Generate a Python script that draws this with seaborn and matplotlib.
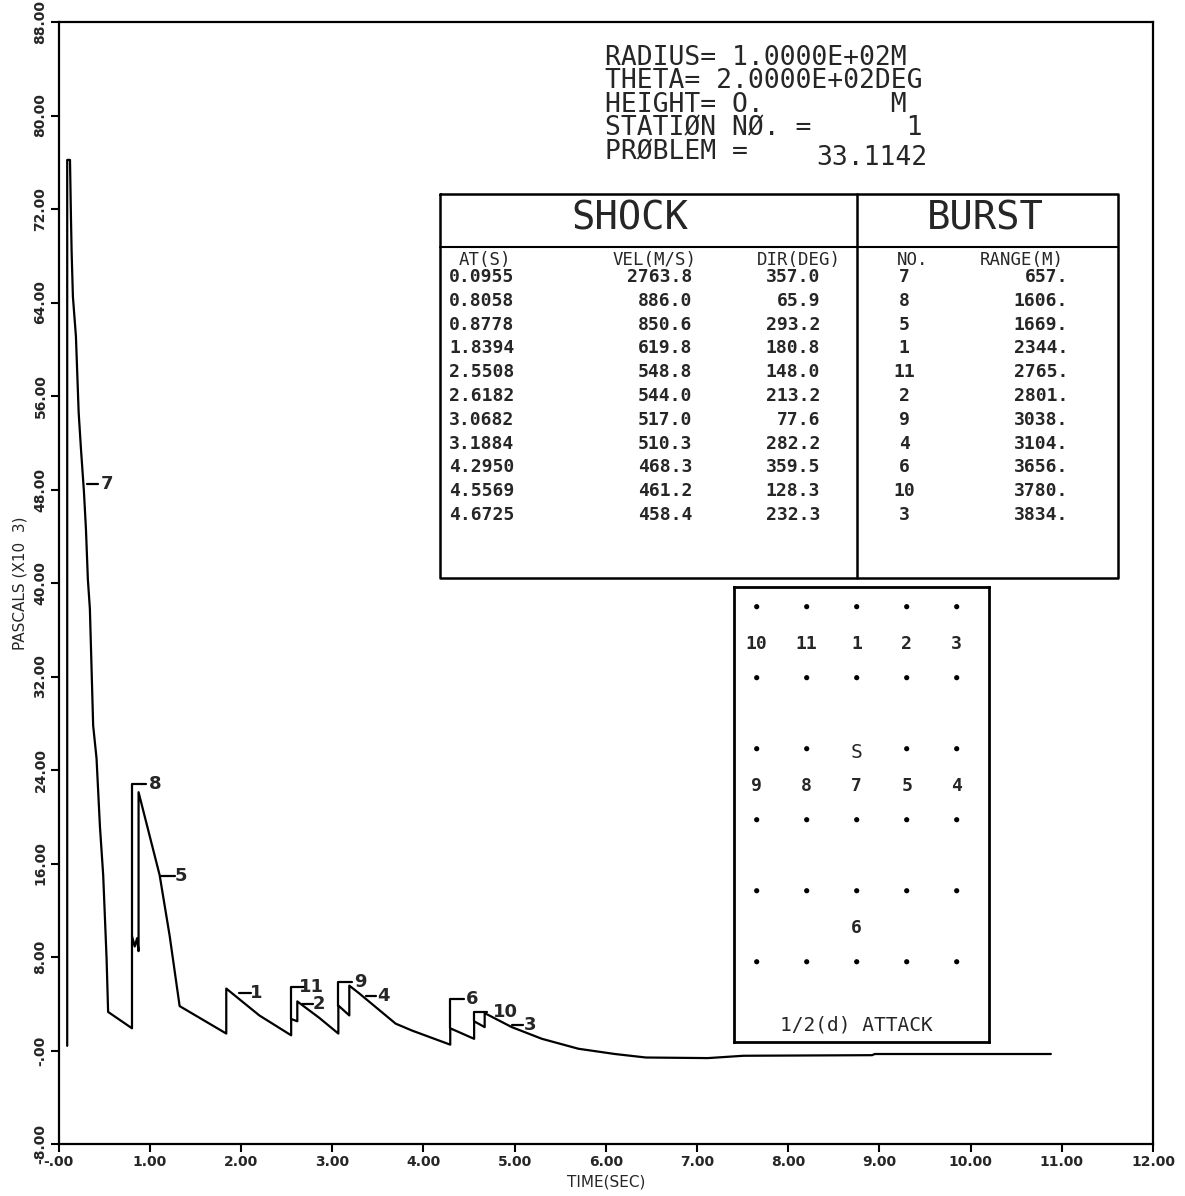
import numpy as np
import pandas as pd
import matplotlib
matplotlib.use("Agg")
import matplotlib.pyplot as plt
import seaborn as sns

# ---- pressure-time history at station 1 (PASCALS x10^3) ----
time_s = [0.0955, 0.0955, 0.126, 0.137, 0.144, 0.158, 0.191, 0.221, 0.246, 0.279,
          0.301, 0.322, 0.344, 0.380, 0.417, 0.454, 0.490, 0.527, 0.544,
          0.8058, 0.8058, 0.836, 0.861, 0.8778, 0.8778, 1.109, 1.219, 1.328,
          1.8394, 1.8394, 2.202, 2.5508, 2.5508, 2.6182, 2.6182, 2.858,
          3.0682, 3.0682, 3.1884, 3.1884, 3.295, 3.696, 3.878,
          4.2950, 4.2950, 4.5569, 4.5569, 4.6725, 4.6725, 4.97, 5.30, 5.70,
          6.10, 6.44, 7.12, 7.51, 8.92, 8.95, 10.88]
pressure = [0.4, 76.2, 76.2, 71.1, 68.3, 64.5, 61.1, 54.6, 51.5, 47.8,
            44.6, 40.3, 37.8, 27.8, 25.0, 19.2, 15.0, 7.9, 3.3,
            1.9, 9.8, 8.9, 9.6, 8.5, 22.1, 15.0, 9.8, 3.8,
            1.45, 5.3, 3.0, 1.3, 2.7, 2.5, 4.2, 2.8,
            1.45, 3.85, 3.0, 5.55, 4.9, 2.3, 1.7,
            0.5, 1.9, 1.0, 2.5, 2.0, 3.2, 2.0, 1.0, 0.15,
            -0.3, -0.6, -0.65, -0.45, -0.4, -0.3, -0.3]

# ---- shock arrival table ----
arrival_s = [0.0955, 0.8058, 0.8778, 1.8394, 2.5508, 2.6182, 3.0682, 3.1884, 4.2950, 4.5569, 4.6725]
velocity_ms = [2763.8, 886.0, 850.6, 619.8, 548.8, 544.0, 517.0, 510.3, 468.3, 461.2, 458.4]
direction_deg = [357.0, 65.9, 293.2, 180.8, 148.0, 213.2, 77.6, 282.2, 359.5, 128.3, 232.3]
burst_no = [7, 8, 5, 1, 11, 2, 9, 4, 6, 10, 3]
range_m = [657, 1606, 1669, 2344, 2765, 2801, 3038, 3104, 3656, 3780, 3834]

# ---- curve labels: burst, style, label level, dash/bar start, bar end, text x, bar foot ----
label_burst = [7, 8, 5, 1, 11, 2, 9, 4, 6, 10, 3]
label_style = ["dash", "bracket", "dash", "dash", "bracket", "dash", "bracket", "dash", "bracket", "bracket", "dash"]
label_level = [48.5, 22.8, 14.9, 4.9, 5.4, 4.0, 5.9, 4.7, 4.4, 3.3, 2.2]
label_x0 = [0.315, 0.8058, 1.128, 1.984, 2.5508, 2.675, 3.0682, 3.368, 4.2950, 4.5569, 4.967]
label_x1 = [0.435, 0.964, 1.273, 2.111, 2.713, 2.785, 3.222, 3.478, 4.443, 4.697, 5.098]
label_tx = [0.527, 1.055, 1.346, 2.166, 2.776, 2.858, 3.314, 3.568, 4.533, 4.898, 5.17]
label_base = [0, 9.8, 0, 0, 2.7, 0, 3.85, 0, 1.9, 2.5, 0]

# ---- axis ticks ----
x_ticks = list(range(0, 13))
x_ticklabels = ["-.00"] + ["%d.00" % v for v in range(1, 13)]
y_ticks = list(range(-8, 89, 8))
y_ticklabels = ["-8.00", "-.00"] + ["%d.00" % v for v in range(8, 89, 8)]

# ---- 1/2(d) attack layout: grid columns/rows and burst positions ----
grid_cols = [0, 1, 2, 3, 4]
grid_rows = [0, 1, 2, 3, 4, 5]
attack_no = [10, 11, 1, 2, 3, 9, 8, 7, 5, 4, 6]
attack_col = [0, 1, 2, 3, 4, 0, 1, 2, 3, 4, 2]
attack_row = [0.5, 0.5, 0.5, 0.5, 0.5, 2.5, 2.5, 2.5, 2.5, 2.5, 4.5]
station_col, station_row = 2, 2

header_lines = ["RADIUS= 1.0000E+02M",
                "THETA= 2.0000E+02DEG",
                "HEIGHT= O.        M",
                "STATIØN NØ. =      1",
                "PRØBLEM ="]
problem_no = "33.1142"

W, H = 1185, 1196
sns.set_theme(style="white")
plt.rcParams["font.family"] = ["DejaVu Sans"]
fig = plt.figure(figsize=(W / 100, H / 100), dpi=100)

ax_l, ax_r, ax_t, ax_b = 58.5, 1153, 22, 1144
ax = fig.add_axes([ax_l / W, 1 - ax_b / H, (ax_r - ax_l) / W, (ax_b - ax_t) / H])

df = pd.DataFrame({"t": time_s, "p": pressure})
sns.lineplot(data=df, x="t", y="p", sort=False, estimator=None, color="black", lw=1.6, ax=ax)

for b, st, lv, x0, x1, tx, base in zip(label_burst, label_style, label_level, label_x0,
                                         label_x1, label_tx, label_base):
    if st == "bracket":
        ax.plot([x0, x0, x1], [base, lv, lv], color="black", lw=1.6)
    else:
        ax.plot([x0, x1], [lv, lv], color="black", lw=1.6)
    ax.text(tx, lv, str(b), ha="center", va="center", fontsize=13, fontweight="bold")

ax.set_xlim(0, 12)
ax.set_ylim(-8, 88)
ax.set_xticks(x_ticks)
ax.set_xticklabels(x_ticklabels, fontsize=10, fontweight="bold")
ax.set_yticks(y_ticks)
ax.set_yticklabels(y_ticklabels, fontsize=10, fontweight="bold", rotation=90, va="center")
ax.tick_params(axis="both", direction="out", length=6, width=1.5, color="black", pad=2)
ax.tick_params(axis="both", which="both", bottom=True, left=True)
for s in ax.spines.values():
    s.set_color("black")
    s.set_linewidth(1.6)
ax.set_xlabel("TIME(SEC)", fontsize=11, labelpad=4)
ax.set_ylabel("PASCALS (X10  3)", fontsize=11, labelpad=4)

# ---- overlay in pixel units for the header and the table ----
ov = fig.add_axes([0, 0, 1, 1], facecolor="none")
ov.set_xlim(0, W)
ov.set_ylim(H, 0)
ov.axis("off")

mono = "DejaVu Sans Mono"
for i, line in enumerate(header_lines):
    ov.text(605, 58 + i * 23.5, line, family=mono, fontsize=19, ha="left", va="center")
ov.text(816, 158, problem_no, family=mono, fontsize=19, ha="left", va="center")

tx0, tx1, ty0, ty1, tdiv, thead = 440, 1118, 194, 578, 857, 247
ov.plot([tx0, tx1, tx1, tx0, tx0], [ty0, ty0, ty1, ty1, ty0], color="black", lw=1.8)
ov.plot([tdiv, tdiv], [ty0, ty1], color="black", lw=1.8)
ov.plot([tx0, tx1], [thead, thead], color="black", lw=1.5)
ov.text(630, 218, "SHOCK", family=mono, fontsize=28, ha="center", va="center")
ov.text(985, 218, "BURST", family=mono, fontsize=28, ha="center", va="center")
heads = [("AT(S)", 485), ("VEL(M/S)", 655), ("DIR(DEG)", 799), ("NO.", 913), ("RANGE(M)", 1022)]
for txt, x in heads:
    ov.text(x, 260, txt, family=mono, fontsize=12.5, ha="center", va="center")
row_y0, row_dy = 277, 23.8
for i in range(len(arrival_s)):
    y = row_y0 + i * row_dy
    ov.text(449, y, "%.4f" % arrival_s[i], family=mono, fontsize=13, fontweight="bold", ha="left", va="center")
    ov.text(692, y, "%.1f" % velocity_ms[i], family=mono, fontsize=13, fontweight="bold", ha="right", va="center")
    ov.text(820, y, "%.1f" % direction_deg[i], family=mono, fontsize=13, fontweight="bold", ha="right", va="center")
    ov.text(904, y, "%d" % burst_no[i], family=mono, fontsize=13, fontweight="bold", ha="center", va="center")
    ov.text(1068, y, "%d." % range_m[i], family=mono, fontsize=13, fontweight="bold", ha="right", va="center")

# ---- attack layout inset ----
bx0, bx1, by0, by1 = 734, 989, 587, 1042
ia = fig.add_axes([bx0 / W, 1 - by1 / H, (bx1 - bx0) / W, (by1 - by0) / H])
ia.set_xlim(-0.454, 4.646)
ia.set_ylim(6.13, -0.277)
gx, gy = np.meshgrid(grid_cols, grid_rows)
gdf = pd.DataFrame({"c": gx.ravel(), "r": gy.ravel()})
gdf = gdf[~((gdf.c == station_col) & (gdf.r == station_row))]
sns.scatterplot(data=gdf, x="c", y="r", color="black", s=14, edgecolor="none", ax=ia)
for n, c, r in zip(attack_no, attack_col, attack_row):
    ia.text(c, r + 0.03, str(n), family=mono, fontsize=13, fontweight="bold", ha="center", va="center")
ia.text(station_col, station_row + 0.05, "S", family=mono, fontsize=14, ha="center", va="center")
ia.text(2, 5.89, "1/2(d) ATTACK", family=mono, fontsize=14, ha="center", va="center")
ia.set_xticks([])
ia.set_yticks([])
ia.set_xlabel("")
ia.set_ylabel("")
for s in ia.spines.values():
    s.set_color("black")
    s.set_linewidth(2)

fig.savefig("out.png", dpi=100)
